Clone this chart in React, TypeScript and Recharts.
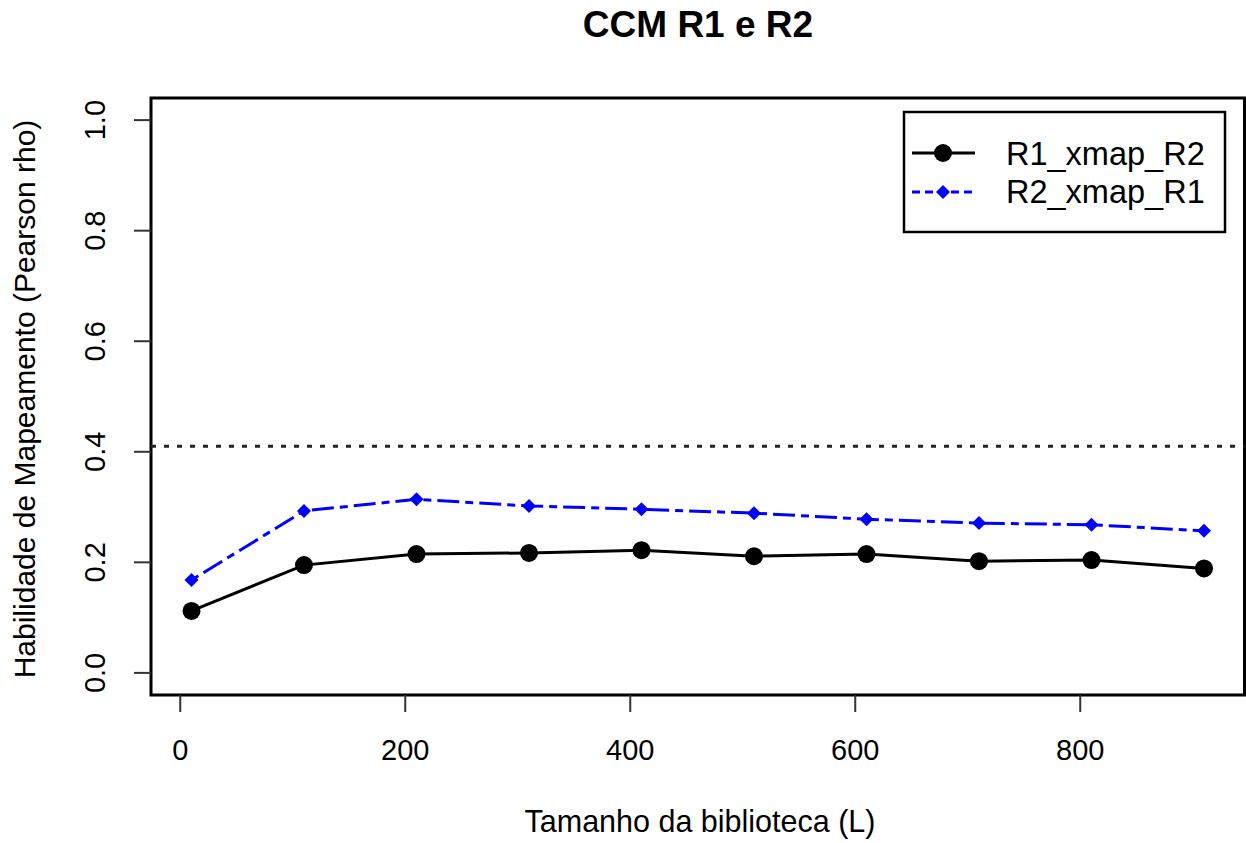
import React from "react"
import {
  LineChart,
  Line,
  XAxis,
  YAxis,
  ReferenceLine,
  ReferenceArea,
} from "recharts"

const libSizes = [10, 110, 210, 310, 410, 510, 610, 710, 810, 910]
const r1XmapR2 = [0.112, 0.195, 0.215, 0.217, 0.222, 0.211, 0.215, 0.202, 0.204, 0.189]
const r2XmapR1 = [0.168, 0.293, 0.314, 0.302, 0.296, 0.289, 0.278, 0.271, 0.268, 0.257]
const threshold = 0.41
const xTicks = [0, 200, 400, 600, 800]
const yTicks = [0, 0.2, 0.4, 0.6, 0.8, 1.0]

const title = "CCM R1 e R2"
const xLabel = "Tamanho da biblioteca (L)"
const yLabel = "Habilidade de Mapeamento (Pearson rho)"
const seriesNames = ["R1_xmap_R2", "R2_xmap_R1"]

const data = libSizes.map((L, i) => ({ L, r1: r1XmapR2[i], r2: r2XmapR1[i] }))

const font = "'Liberation Sans', Arial, Helvetica, sans-serif"
const blue = "#0000ff"
const blueDash = "8 6 22 6"

// pch 18 style diamond
function Diamond({ cx, cy }: { cx?: number; cy?: number }) {
  if (cx == null || cy == null) return null
  const s = 7
  return (
    <polygon
      points={`${cx},${cy - s} ${cx + s},${cy} ${cx},${cy + s} ${cx - s},${cy}`}
      fill={blue}
    />
  )
}

function YTick(props: any) {
  const { x, y, payload } = props
  return (
    <text
      x={x}
      y={y}
      transform={`rotate(-90 ${x} ${y})`}
      textAnchor="middle"
      fontSize={29}
      fontFamily={font}
      fill="#000"
    >
      {Number(payload.value).toFixed(1)}
    </text>
  )
}

export default function App() {
  return (
    <div
      style={{
        position: "absolute",
        left: 0,
        top: 0,
        width: 1246,
        height: 843,
        background: "#fff",
        fontFamily: font,
      }}
    >
      <LineChart
        width={1246}
        height={843}
        data={data}
        margin={{ top: 98, right: 1.5, bottom: 0, left: 0 }}
      >
        <XAxis
          dataKey="L"
          type="number"
          domain={[-26, 946]}
          ticks={xTicks}
          height={148}
          tickSize={17}
          tickMargin={27}
          axisLine={false}
          tickLine={{ stroke: "#333", strokeWidth: 2 }}
          tick={{ fontSize: 29, fill: "#000", fontFamily: font }}
          allowDataOverflow
        />
        <YAxis
          type="number"
          domain={[-0.04, 1.04]}
          ticks={yTicks}
          width={151}
          tickSize={17}
          tickMargin={29}
          axisLine={false}
          tickLine={{ stroke: "#333", strokeWidth: 2 }}
          tick={<YTick />}
          allowDataOverflow
        />
        <ReferenceLine
          y={threshold}
          stroke="#222"
          strokeWidth={3}
          strokeDasharray="5 8"
        />
        <Line
          dataKey="r2"
          name={seriesNames[1]}
          stroke={blue}
          strokeWidth={3}
          strokeDasharray={blueDash}
          dot={(p: any) => <Diamond key={`d-${p.index}`} cx={p.cx} cy={p.cy} />}
          activeDot={false}
          isAnimationActive={false}
        />
        <Line
          dataKey="r1"
          name={seriesNames[0]}
          stroke="#000"
          strokeWidth={3}
          dot={{ r: 9, fill: "#000", stroke: "none" }}
          activeDot={false}
          isAnimationActive={false}
        />
        <ReferenceArea
          x1={-26}
          x2={946}
          y1={-0.04}
          y2={1.04}
          fill="none"
          fillOpacity={0}
          stroke="#000"
          strokeWidth={3}
          ifOverflow="visible"
        />
      </LineChart>
      <svg
        width={1246}
        height={843}
        style={{ position: "absolute", left: 0, top: 0, pointerEvents: "none" }}
      >
        <text x={698} y={37} textAnchor="middle" fontSize={37} fontWeight="bold" fontFamily={font} fill="#000">
          {title}
        </text>
        <text x={700} y={832} textAnchor="middle" fontSize={30.5} fontFamily={font} fill="#000">
          {xLabel}
        </text>
        <text
          x={35}
          y={399}
          transform="rotate(-90 35 399)"
          textAnchor="middle"
          fontSize={30}
          fontFamily={font}
          fill="#000"
        >
          {yLabel}
        </text>
        {/* legend */}
        <rect x={904} y={112} width={321} height={120} fill="#fff" stroke="#000" strokeWidth={2.5} />
        <line x1={912} y1={153} x2={975} y2={153} stroke="#000" strokeWidth={3} />
        <circle cx={943} cy={153} r={9} fill="#000" />
        <text x={1006} y={165} fontSize={32.5} fontFamily={font} fill="#000">
          {seriesNames[0]}
        </text>
        <line x1={912} y1={192} x2={975} y2={192} stroke={blue} strokeWidth={3} strokeDasharray="8 5" />
        <Diamond cx={943} cy={192} />
        <text x={1006} y={203} fontSize={32.5} fontFamily={font} fill="#000">
          {seriesNames[1]}
        </text>
      </svg>
    </div>
  )
}
